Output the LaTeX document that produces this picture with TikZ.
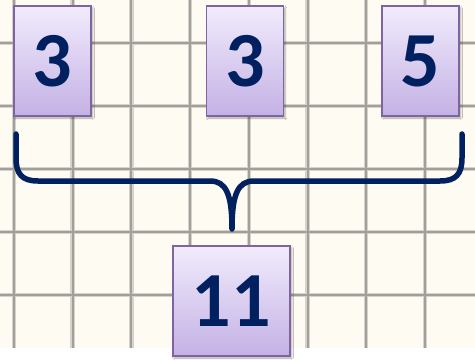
\documentclass[tikz,border=0pt]{standalone}
\usepackage{fontspec}
\setmainfont{Carlito}
\usetikzlibrary{shadows.blur}
\definecolor{paper}{HTML}{FDFBF2}
\definecolor{gridc}{HTML}{A29E9A}
\definecolor{gridh}{HTML}{D6D2CC}
\definecolor{navy}{HTML}{002060}
\definecolor{boxtop}{HTML}{F1ECFC}
\definecolor{boxbot}{HTML}{C4B1E5}
\definecolor{boxline}{HTML}{8064A2}
\tikzset{
  numbox/.style={draw=boxline, line width=1.4pt, top color=boxtop, bottom color=boxbot,
    minimum height=110pt, inner sep=0pt, text=navy,
    font=\fontsize{78}{78}\selectfont\bfseries,
    blur shadow={shadow xshift=1.5pt, shadow yshift=-2pt, shadow blur steps=4, shadow opacity=35}},
  bracestyle/.style={draw=navy, line width=5.5pt, line cap=round, line join=round},
  gridhalo/.style={gridh, line width=4.5pt},
  gridline/.style={gridc, line width=2pt}
}
\begin{document}
\begin{tikzpicture}[x=1pt,y=1pt]
\useasboundingbox (0,0) rectangle (475,-360);
\fill[white] (0,0) rectangle (475,-360);
\fill[paper] (0,0) rectangle (475,-348);
\begin{scope}
\clip (0,0) rectangle (475,-348);
\foreach \x in {14,72.7,131.4,190,248.8,307.5,366,424.9} {
  \draw[gridhalo] (\x,0) -- (\x,-348);
}
\foreach \y in {43,106,169,232,295} {
  \draw[gridhalo] (0,-\y) -- (475,-\y);
}
\foreach \x in {14,72.7,131.4,190,248.8,307.5,366,424.9} {
  \draw[gridline] (\x,0) -- (\x,-348);
}
\foreach \y in {43,106,169,232,295} {
  \draw[gridline] (0,-\y) -- (475,-\y);
}
\end{scope}
\node[numbox, minimum width=77pt] (a) at (52.5,-61) {3};
\node[numbox, minimum width=77pt] (b) at (245,-61) {3};
\node[numbox, minimum width=77pt] (c) at (420.5,-61) {5};
\node[numbox, minimum width=117pt] (s) at (231.5,-301) {11};
\coordinate (bl) at (16,-134);
\coordinate (br) at (462,-134);
\coordinate (tip) at (232,-229);
\draw[bracestyle] (bl) -- (16,-158) .. controls (16,-174) and (22,-181) .. (38,-181)
  -- (210,-181) .. controls (226,-181) and (232,-194) .. (tip)
  .. controls (232,-194) and (238,-181) .. (254,-181)
  -- (440,-181) .. controls (456,-181) and (462,-174) .. (462,-158) -- (br);
\end{tikzpicture}
\end{document}
